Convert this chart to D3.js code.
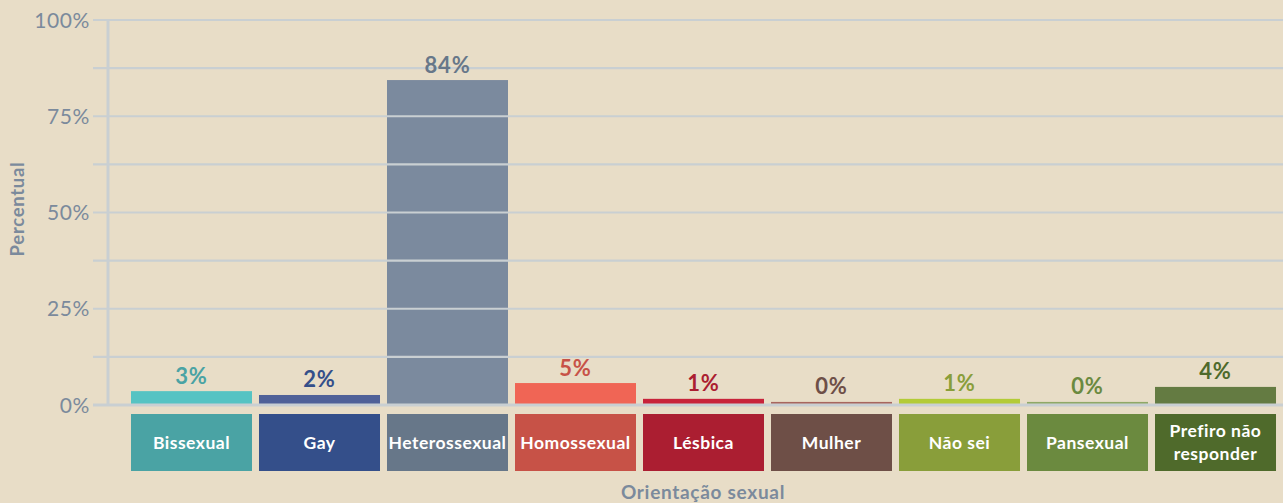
<!DOCTYPE html>
<html><head><meta charset="utf-8">
<script src="https://cdn.jsdelivr.net/npm/d3@7"></script>
<style>
html,body{margin:0;padding:0;background:#e8ddc7;overflow:hidden;}
svg{display:block;}
</style></head>
<body><svg id="c" width="1283" height="503"></svg>
<script>
const categories = ["Bissexual","Gay","Heterossexual","Homossexual","Lésbica","Mulher","Não sei","Pansexual","Prefiro não responder"];
const values = [3.6, 2.6, 84.4, 5.7, 1.6, 0.8, 1.6, 0.8, 4.7];
const valueLabels = ["3%","2%","84%","5%","1%","0%","1%","0%","4%"];
const yTicks = [0, 25, 50, 75, 100];
const yTickLabels = ["0%","25%","50%","75%","100%"];
const gridValues = [0, 12.5, 25, 37.5, 50, 62.5, 75, 87.5, 100];
const barColors = ["#56c3c3","#506198","#7b8a9e","#f06555","#c8233a","#a8665e","#b3cb37","#8fa866","#647b42"];
const darkColors = ["#4aa3a4","#344f8a","#677789","#c75247","#ab1e31","#6e4f47","#899e3a","#6b8a3f","#4f6a2b"];

const svg = d3.select("#c");
const W = 1283, H = 503;
svg.append("rect").attr("width",W).attr("height",H).attr("fill","#e8ddc7");

const y = d3.scaleLinear().domain([0,100]).range([405,20]);
const x = d3.scaleBand().domain(categories).range([127.5,1279.5]).paddingInner(7/128).paddingOuter(0.0273);

const axisCol = "#c9cfd2";
const textCol = "#7b8a9c";
const font = "Lato, 'Open Sans', sans-serif";

// bars
svg.append("g").selectAll("rect").data(categories).join("rect")
  .attr("x", d=>x(d)).attr("width", x.bandwidth())
  .attr("y", (d,i)=>y(values[i])).attr("height",(d,i)=>y(0)-y(values[i]))
  .attr("fill",(d,i)=>barColors[i]);

// gridlines over bars
svg.append("g").selectAll("line").data(gridValues).join("line")
  .attr("x1",93).attr("x2",W).attr("y1",d=>y(d)).attr("y2",d=>y(d))
  .attr("stroke",axisCol).attr("stroke-width",d=>d===0?3:2.2);

// vertical axis line
svg.append("line").attr("x1",108).attr("x2",108).attr("y1",y(100)-1).attr("y2",y(0)+1)
  .attr("stroke",axisCol).attr("stroke-width",3);

// y tick labels
svg.append("g").selectAll("text").data(yTicks).join("text")
  .attr("x",90).attr("y",d=>y(d)+7.5).attr("text-anchor","end")
  .attr("font-family",font).attr("font-size",21).attr("letter-spacing",0.6).attr("fill",textCol)
  .text((d,i)=>yTickLabels[i]);

// value labels
svg.append("g").selectAll("text").data(categories).join("text")
  .attr("x",d=>x(d)+x.bandwidth()/2).attr("y",(d,i)=>y(values[i])-7.5)
  .attr("text-anchor","middle").attr("font-family",font).attr("font-weight",700)
  .attr("font-size",22).attr("letter-spacing",0.8).attr("fill",(d,i)=>darkColors[i])
  .text((d,i)=>valueLabels[i]);

// category boxes
const cg = svg.append("g").selectAll("g").data(categories).join("g");
cg.append("rect").attr("x",d=>x(d)).attr("width",x.bandwidth()).attr("y",414).attr("height",57)
  .attr("fill",(d,i)=>darkColors[i]);
cg.each(function(d){
  const g = d3.select(this);
  const cx = x(d)+x.bandwidth()/2;
  const lines = d === "Prefiro não responder" ? ["Prefiro não","responder"] : [d];
  const y0 = lines.length===1 ? 448.5 : 437;
  lines.forEach((t,j)=>{
    g.append("text").attr("x",cx).attr("y",y0+j*23).attr("text-anchor","middle")
      .attr("font-family",font).attr("font-weight",700).attr("font-size",17.5)
      .attr("letter-spacing",0.5).attr("fill","#ffffff").text(t);
  });
});

// axis titles
svg.append("text").attr("x",703).attr("y",499).attr("text-anchor","middle")
  .attr("font-family",font).attr("font-weight",700).attr("font-size",19)
  .attr("letter-spacing",0.7).attr("fill",textCol).text("Orientação sexual");
svg.append("text").attr("transform","translate(24,209) rotate(-90)").attr("text-anchor","middle")
  .attr("font-family",font).attr("font-weight",700).attr("font-size",18.5)
  .attr("letter-spacing",0.7).attr("fill",textCol).text("Percentual");
</script>
</body></html>
